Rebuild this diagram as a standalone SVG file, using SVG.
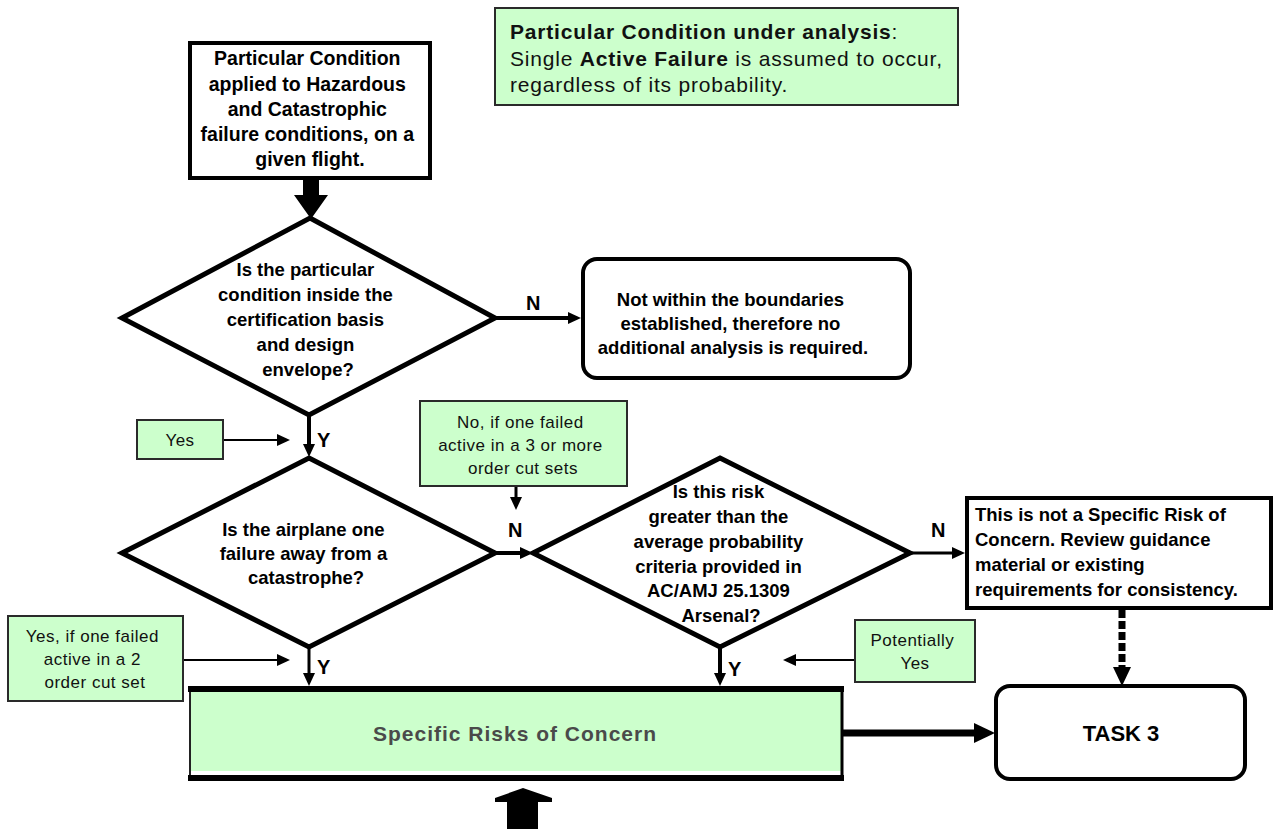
<svg xmlns="http://www.w3.org/2000/svg" width="1275" height="829" viewBox="0 0 1275 829">
<style>
.bg{fill:#ffffff}
.node{fill:#ffffff;stroke:#000;stroke-width:4}
.dia{fill:#ffffff;stroke:#000;stroke-width:5;stroke-linejoin:miter}
.note{fill:#CCFFCC;stroke:#2a2a2a;stroke-width:2}
.bt{font-family:"Liberation Sans",Arial,sans-serif;font-weight:bold;font-size:18.5px;fill:#000;text-anchor:middle}
.lt{font-family:"Liberation Sans",Arial,sans-serif;font-size:17px;letter-spacing:0.5px;fill:#111;text-anchor:middle}
.yn{font-family:"Liberation Sans",Arial,sans-serif;font-weight:bold;font-size:20px;fill:#000}
.c{fill:none;stroke:#000}
</style>
<defs>
<marker id="ah" markerUnits="userSpaceOnUse" markerWidth="14" markerHeight="12" refX="1" refY="6" orient="auto"><path d="M0,0 L13,6 L0,12 z" fill="#000"/></marker>
<marker id="ahL" markerUnits="userSpaceOnUse" markerWidth="22" markerHeight="20" refX="1" refY="10" orient="auto"><path d="M0,0 L21,10 L0,20 z" fill="#000"/></marker>
<marker id="ahD" markerUnits="userSpaceOnUse" markerWidth="20" markerHeight="18" refX="1" refY="9" orient="auto"><path d="M0,0 L19,9 L0,18 z" fill="#000"/></marker>
</defs>
<rect class="bg" x="0" y="0" width="1275" height="829"/>

<g id="connectors">
  <polygon points="303,180 319,180 319,195 328,195 311,219 294,195 303,195" fill="#000"/>
  <path class="c" d="M495,318 L569,318" stroke-width="4" marker-end="url(#ah)"/>
  <path class="c" d="M223,440 L278,440" stroke-width="2" marker-end="url(#ah)"/>
  <path class="c" d="M309,415 L309,445" stroke-width="4" marker-end="url(#ah)"/>
  <path class="c" d="M495,553 L521,553" stroke-width="4" marker-end="url(#ah)"/>
  <path class="c" d="M516,486 L516,498" stroke-width="3" marker-end="url(#ah)"/>
  <path class="c" d="M910,553 L953,553" stroke-width="3" marker-end="url(#ah)"/>
  <path class="c" d="M1122,610 L1122,668" stroke-width="7" stroke-dasharray="8 3" marker-end="url(#ahD)"/>
  <path class="c" d="M183,660 L278,660" stroke-width="2" marker-end="url(#ah)"/>
  <path class="c" d="M309,647 L309,674" stroke-width="3" marker-end="url(#ah)"/>
  <path class="c" d="M720,647 L720,674" stroke-width="4" marker-end="url(#ah)"/>
  <path class="c" d="M854,660 L795,660" stroke-width="2" marker-end="url(#ah)"/>
  <path class="c" d="M843,733 L975,733" stroke-width="7" marker-end="url(#ahL)"/>
  <polygon points="507,829 507,802 495,802 495,798 523,788 552,798 552,802 538,802 538,829" fill="#000"/>
  <text class="yn" x="526" y="310">N</text>
  <text class="yn" x="317" y="447">Y</text>
  <text class="yn" x="508" y="537">N</text>
  <text class="yn" x="931" y="537">N</text>
  <text class="yn" x="317" y="674">Y</text>
  <text class="yn" x="728" y="676">Y</text>
</g>

<g id="note-top">
  <rect class="note" x="495" y="8" width="463" height="97"/>
  <text font-family="Liberation Sans, Arial, sans-serif" font-size="21" letter-spacing="0.8" fill="#111">
    <tspan x="510" y="39" font-weight="bold">Particular Condition under analysis</tspan><tspan>:</tspan>
    <tspan x="510" y="66">Single </tspan><tspan font-weight="bold">Active Failure</tspan><tspan> is assumed to occur,</tspan>
    <tspan x="510" y="92">regardless of its probability.</tspan>
  </text>
</g>

<g id="start">
  <rect class="node" x="190" y="43" width="240" height="135"/>
  <text class="bt" style="font-size:19.5px">
    <tspan x="310" y="65">Particular Condition</tspan>
    <tspan x="310" y="91">applied to Hazardous</tspan>
    <tspan x="310" y="116">and Catastrophic</tspan>
    <tspan x="310" y="141">failure conditions, on a</tspan>
    <tspan x="310" y="166">given flight.</tspan>
  </text>
</g>

<g id="d1">
  <polygon class="dia" points="310,218 495,318 309,415 122,318"/>
  <text class="bt">
    <tspan x="308" y="276">Is the particular</tspan>
    <tspan x="308" y="301">condition inside the</tspan>
    <tspan x="308" y="326">certification basis</tspan>
    <tspan x="308" y="351">and design</tspan>
    <tspan x="308" y="376">envelope?</tspan>
  </text>
</g>

<g id="outside">
  <rect class="node" x="583" y="259" width="327" height="119" rx="14"/>
  <text class="bt">
    <tspan x="733" y="306">Not within the boundaries</tspan>
    <tspan x="733" y="330">established, therefore no</tspan>
    <tspan x="733" y="354">additional analysis is required.</tspan>
  </text>
</g>

<g id="yes1">
  <rect class="note" x="137" y="420" width="86" height="39"/>
  <text class="lt" x="180" y="446">Yes</text>
</g>

<g id="d2">
  <polygon class="dia" points="309,458 495,553 309,647 122,553"/>
  <text class="bt">
    <tspan x="306" y="536">Is the airplane one</tspan>
    <tspan x="306" y="560">failure away from a</tspan>
    <tspan x="306" y="584">catastrophe?</tspan>
  </text>
</g>

<g id="no3">
  <rect class="note" x="420" y="401" width="207" height="85"/>
  <text class="lt">
    <tspan x="523" y="428">No, if one failed</tspan>
    <tspan x="523" y="451">active in a 3 or more</tspan>
    <tspan x="523" y="474">order cut sets</tspan>
  </text>
</g>

<g id="d3">
  <polygon class="dia" points="720,458 910,553 720,647 533,553"/>
  <text class="bt">
    <tspan x="721" y="498">Is this risk</tspan>
    <tspan x="721" y="523">greater than the</tspan>
    <tspan x="721" y="548">average probability</tspan>
    <tspan x="721" y="573">criteria provided in</tspan>
    <tspan x="721" y="597">AC/AMJ 25.1309</tspan>
    <tspan x="721" y="622">Arsenal?</tspan>
  </text>
</g>

<g id="notsrc">
  <rect class="node" x="967" y="498" width="304" height="110"/>
  <text class="bt" style="text-anchor:start">
    <tspan x="975" y="521">This is not a Specific Risk of</tspan>
    <tspan x="975" y="546">Concern. Review guidance</tspan>
    <tspan x="975" y="571">material or existing</tspan>
    <tspan x="975" y="596">requirements for consistency.</tspan>
  </text>
</g>

<g id="yes2">
  <rect class="note" x="8" y="616" width="175" height="85"/>
  <text class="lt">
    <tspan x="95" y="642">Yes, if one failed</tspan>
    <tspan x="95" y="665">active in a 2</tspan>
    <tspan x="95" y="688">order cut set</tspan>
  </text>
</g>

<g id="potentially">
  <rect class="note" x="855" y="620" width="120" height="62"/>
  <text class="lt">
    <tspan x="915" y="646">Potentially</tspan>
    <tspan x="915" y="669">Yes</tspan>
  </text>
</g>

<g id="src">
  <rect x="190" y="688" width="652" height="90" fill="#CCFFCC"/>
  <rect x="190" y="771" width="652" height="4" fill="#ffffff"/>
  <line x1="190" y1="686" x2="190" y2="780" stroke="#222" stroke-width="2"/>
  <line x1="842" y1="686" x2="842" y2="780" stroke="#000" stroke-width="3"/>
  <line x1="188" y1="689" x2="844" y2="689" stroke="#000" stroke-width="6"/>
  <line x1="188" y1="778" x2="844" y2="778" stroke="#000" stroke-width="6"/>
  <text class="bt" x="515" y="741" style="font-size:21px;letter-spacing:1px;fill:#4a4a4a">Specific Risks of Concern</text>
</g>

<g id="task3">
  <rect class="node" x="996" y="686" width="249" height="93" rx="14"/>
  <text class="bt" x="1121" y="741" style="font-size:22px">TASK 3</text>
</g>
</svg>
